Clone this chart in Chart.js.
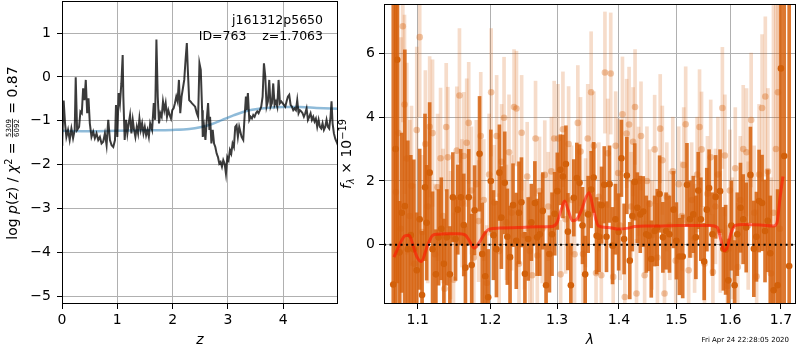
<!DOCTYPE html>
<html><head><meta charset="utf-8">
<script src="https://cdn.jsdelivr.net/npm/chart.js@4.4.0/dist/chart.umd.min.js"></script>
<style>
html,body{margin:0;padding:0;background:#fff;}
#wrap{position:relative;width:800px;height:350px;background:#fff;}
canvas{position:absolute;left:0;top:0;}
</style></head><body>
<div id="wrap"><canvas id="c1" width="800" height="350"></canvas><canvas id="c2" width="800" height="350"></canvas></div>
<script>
// ---------- LEFT PANEL DATA: log p(z) ----------
const zGrid = [
 0,0.005,0.03,0.055,0.079,0.109,0.139,0.17,0.2,0.23,
 0.248,0.273,0.309,0.333,0.358,0.382,0.406,0.43,0.455,0.479,
 0.503,0.533,0.564,0.594,0.624,0.655,0.685,0.715,0.745,0.776,
 0.806,0.836,0.867,0.897,0.927,0.958,0.976,1.0,1.024,1.048,
 1.073,1.097,1.109,1.133,1.158,1.182,1.206,1.23,1.255,1.279,
 1.303,1.327,1.352,1.376,1.4,1.424,1.448,1.473,1.497,1.521,
 1.545,1.57,1.594,
 1.629,1.659,1.683,1.707,1.731,1.754,1.778,1.802,1.826,1.85,
 1.874,1.898,1.922,1.946,1.97,1.994,2.018,2.042,2.066,2.09,
 2.114,2.138,2.162,2.186,2.21,2.234,2.257,2.275,2.299,2.323,
 2.347,2.377,2.407,2.437,2.461,2.485,2.509,2.533,2.545,2.569,
 2.593,2.617,2.641,2.665,2.677,2.701,2.725,2.749,2.772,2.796,
 2.82,2.844,2.868,2.892,2.916,2.94,2.964,2.988,3.012,3.036,
 3.06,3.084,3.108,3.132,3.156,3.18,3.204,
 3.247,3.277,3.301,3.325,3.337,3.361,3.386,3.41,3.434,3.458,
 3.482,3.506,3.53,3.554,3.578,3.602,3.627,3.651,3.675,3.699,
 3.723,3.747,3.771,3.795,3.819,3.843,3.867,3.892,3.916,3.94,
 3.964,3.988,4.012,4.036,4.06,4.084,4.108,4.133,4.157,4.181,
 4.205,4.229,4.253,4.277,4.301,4.325,4.349,4.373,4.398,4.422,
 4.446,4.47,4.494,4.518,4.542,4.566,4.59,4.614,4.639,4.663,
 4.687,4.711,4.735,4.759,4.783,4.807,4.831,4.855,4.873,4.892,
 4.916,4.94,4.964,4.988];
const logPz = [
 -1.55,-1.45,-0.54,-1.06,-1.37,-1.21,-1.44,-1.18,-1.40,-1.21,
 -0.01,-1.21,-1.14,-0.79,-0.83,-0.26,-0.53,-0.07,-0.83,-0.49,
 -1.06,-1.37,-1.25,-1.40,-1.29,-1.44,-1.37,-1.52,-1.48,-1.29,
 -1.56,-0.98,-1.44,-1.56,-1.60,-1.44,-0.64,-1.37,-0.37,-0.60,
 -0.15,0.50,-0.45,-1.44,-0.98,-1.29,-1.06,-0.87,-1.29,-0.98,
 -1.21,-1.37,-1.14,-1.29,-0.95,-1.21,-1.06,-1.29,-1.14,-1.33,
 -1.21,-1.37,-1.06,
 -1.21,-0.60,-0.98,0.85,-0.45,-1.06,-0.83,-0.91,-0.56,-0.76,
 -0.60,-0.91,-0.76,-0.87,-0.95,-0.76,-0.72,-0.60,-0.45,-0.56,
 -0.07,-0.83,-0.45,-0.26,-0.07,0.39,0.77,0.16,-0.53,-0.56,
 -0.60,-0.64,-0.68,-0.83,-0.91,0.31,0.16,-0.76,-1.37,-1.14,
 -1.44,-0.98,-0.60,-1.21,-0.91,-1.52,-1.21,-1.52,-1.60,-1.75,
 -1.83,-1.98,-1.94,-2.05,-1.90,-1.98,-2.21,-1.83,-1.90,-1.67,
 -1.75,-1.52,-1.60,-1.14,-1.10,-1.37,-1.14,
 -1.37,-1.44,-0.91,-0.45,-0.76,-0.37,-0.98,-0.91,-0.95,-0.87,
 -0.91,-0.83,-0.79,-0.83,-0.76,-0.68,-0.45,0.31,0.01,-0.68,
 -0.56,-0.07,-0.68,-0.60,-0.15,-0.64,-0.56,-0.68,-0.07,-0.60,
 -0.56,-0.60,-0.64,-0.68,-0.56,-0.45,-0.41,-0.64,-0.68,-0.76,
 -0.72,-0.76,-0.53,-0.83,-0.76,-0.79,-0.83,-0.91,-0.83,-0.72,
 -0.98,-0.91,-0.83,-0.98,-0.91,-1.02,-0.95,-1.14,-0.98,-1.14,
 -1.18,-1.06,-1.21,-1.14,-0.98,-1.14,-1.18,-0.91,-0.56,-1.06,
 -1.29,-1.41,-1.48,-1.56];
const zModel  = [0,0.5,1,1.5,2,2.3,2.5,2.7,2.9,3.1,3.3,3.5,3.7,4,4.3,4.6,5];
const pzModel = [-1.23,-1.24,-1.23,-1.22,-1.21,-1.19,-1.15,-1.08,-0.98,-0.88,-0.79,-0.74,-0.71,-0.69,-0.69,-0.71,-0.73];
const zTicks  = [0,1,2,3,4];
const pzTicks = [-5,-4,-3,-2,-1,0,1];
const zRange  = [0, 4.99];
const pzRange = [-5.18, 1.73];

// ---------- RIGHT PANEL DATA: spectrum ----------
// strong spectrum (dark orange)
const lamA = [
 1.0682,1.0712,1.0733,1.0763,1.0792,1.0831,1.0870,1.0909,1.0948,1.0987,
 1.1026,1.1057,1.1096,1.1118,1.1158,1.1197,1.1242,1.1278,1.1315,1.1350,
 1.1390,1.1432,1.1473,1.1510,1.1541,1.1582,1.1624,1.1647,1.1693,1.1735,
 1.1776,1.1846,1.1884,1.1927,1.1969,1.2007,1.2045,1.2088,1.2131,1.2160,
 1.2209,1.2247,1.2287,1.2331,1.2379,1.2419,1.2456,1.2508,1.2557,1.2605,
 1.2658,1.2692,1.2733,1.2779,1.2829,1.2881,1.2921,1.2962,1.3003,1.3050,
 1.3091,1.3138,1.3169,1.3216,1.3263,1.3311,1.3354,1.3402,1.3445,1.3493,
 1.3541,1.3582,1.3631,1.3670,1.3712,1.3756,1.3793,1.3843,1.3893,1.3942,
 1.3995,1.4042,1.4087,1.4133,1.4183,1.4227,1.4268,1.4312,1.4363,1.4414,
 1.4466,1.4508,1.4553,1.4612,1.4657,1.4699,1.4757,1.4814,1.4874,1.4945,
 1.4998,1.5052,1.5112,1.5189,1.5244,1.5305,1.5353,1.5396,1.5444,1.5506,
 1.5554,1.5598,1.5660,1.5721,1.5804,1.5867,1.5910,1.5962,1.6019,1.6082,
 1.6133,1.6196,1.6249,1.6307,1.6390,1.6457,1.6508,1.6561,1.6620,1.6679,
 1.6733,1.6784,1.6853,1.6933,1.7000,1.7067,1.7169];
const fluxA = [
 -1.25,3.0,5.8,-0.24,1.0,1.21,-0.14,0.3,-0.14,-0.8,
 0.8,-1.58,1.8,0.69,2.26,-0.14,-0.93,0.23,0.5,-0.6,
 0.23,-0.93,1.49,0.18,1.1,1.49,0.62,-0.72,1.49,-0.64,
 1.08,2.85,-0.29,-0.99,-1.65,2.0,0.3,-0.14,2.26,0.85,
 1.94,0.25,-0.39,1.24,0.12,1.0,1.33,-0.91,0.18,0.7,
 1.31,0.23,0.33,1.06,-1.27,-0.29,0.33,0.97,1.68,2.35,
 2.14,2.53,0.41,-1.27,1.47,2.09,1.94,0.6,-0.93,0.95,
 1.73,2.11,0.28,0.25,1.24,1.88,0.25,1.9,-0.03,0.8,
 0.4,2.71,0.18,2.17,-0.5,0.9,1.97,1.16,0.95,1.04,
 0.33,0.28,-0.45,0.43,0.54,1.59,0.23,0.43,0.33,1.1,
 0.12,-0.37,-0.37,1.88,0.8,0.95,0.23,1.7,0.8,-0.53,
 1.1,1.78,0.33,1.5,1.68,-0.13,-0.16,-1.12,0.6,-1.27,
 0.33,1.16,0.8,0.54,2.19,-0.13,0.25,1.37,1.31,0.43,
 0.75,-0.27,-1.43,-1.27,5.53,2.78,-0.67];
const errA = [
 9,8,7,1.6,2.5,4.9,3.4,2.5,2.8,1.8,
 2.2,2.0,2.3,1.8,2.2,1.8,1.4,1.5,1.6,1.4,
 1.5,1.5,1.4,1.3,1.4,1.5,1.6,1.3,1.5,1.6,
 1.4,1.8,1.6,1.4,1.5,1.6,1.4,1.5,1.5,1.6,
 1.6,1.5,1.6,1.3,1.5,1.6,1.4,1.3,1.3,1.2,
 1.3,1.2,1.3,1.2,1.3,1.2,1.3,1.3,1.2,1.1,
 1.3,1.2,1.2,1.3,1.2,1.1,1.2,1.2,1.2,1.2,
 1.2,1.1,1.2,1.1,1.2,1.2,1.1,1.2,1.2,1.1,
 1.2,1.2,1.1,1.2,1.2,1.1,1.2,1.1,1.2,1.1,
 1.2,1.1,1.2,1.1,1.2,1.2,1.1,1.2,1.2,1.2,
 1.2,1.2,1.3,1.3,1.2,1.2,1.3,1.2,1.3,1.2,
 1.3,1.2,1.3,1.3,1.3,1.3,1.4,1.3,1.4,1.4,
 1.3,1.4,1.4,1.4,1.5,1.5,1.4,1.6,1.5,1.6,
 1.6,1.8,2.0,3.0,9,10,10];
// second spectrum (faded)
const lamB = [
 1.0716,1.0748,1.0780,1.0805,1.0827,1.0857,1.0896,1.0918,1.0955,1.0987,
 1.1026,1.1059,1.1101,1.1132,1.1158,1.1197,1.1231,1.1265,1.1305,1.1339,
 1.1359,1.1382,1.1404,1.1441,1.1482,1.1527,1.1564,1.1599,1.1624,1.1665,
 1.1693,1.1731,1.1765,1.1800,1.1832,1.1863,1.1906,1.1948,1.1983,1.2012,
 1.2055,1.2091,1.2127,1.2163,1.2199,1.2235,1.2272,1.2309,1.2346,1.2382,
 1.2419,1.2459,1.2501,1.2542,1.2582,1.2617,1.2668,1.2695,1.2729,1.2771,
 1.2809,1.2863,1.2911,1.2954,1.3013,1.3055,1.3091,1.3133,1.3180,1.3227,
 1.3275,1.3327,1.3370,1.3410,1.3450,1.3486,1.3541,1.3586,1.3621,1.3667,
 1.3707,1.3767,1.3813,1.3863,1.3904,1.3945,1.3987,1.4020,1.4059,1.4099,
 1.4129,1.4171,1.4205,1.4239,1.4273,1.4298,1.4332,1.4375,1.4438,1.4478,
 1.4525,1.4565,1.4612,1.4661,1.4710,1.4748,1.4786,1.4827,1.4880,1.4933,
 1.4986,1.5040,1.5094,1.5130,1.5166,1.5220,1.5275,1.5329,1.5375,1.5420,
 1.5457,1.5512,1.5567,1.5628,1.5669,1.5716,1.5763,1.5810,1.5848,1.5895,
 1.5943,1.5991,1.6038,1.6095,1.6143,1.6191,1.6249,1.6313,1.6346,1.6404,
 1.6463,1.6512,1.6561,1.6620,1.6685,1.6737,1.6798,1.6848,1.6899,1.6939,
 1.6980];
const fluxB = [
 1.65,3.5,0.5,6.85,4.4,2.7,0.9,1.85,-0.6,3.6,
 6.51,0.4,3.16,1.2,3.7,3.5,-0.3,1.8,2.71,0.9,
 -1.38,3.69,2.74,0.3,-1.1,2.95,4.68,1.3,2.78,3.2,
 3.82,1.7,-0.4,1.9,0.74,3.41,1.4,-1.2,2.2,4.78,
 1.32,3.41,-0.2,2.6,3.98,0.7,2.9,1.0,4.32,4.27,
 -0.6,3.51,0.3,2.14,-0.2,-0.96,3.33,-0.34,1.68,0.5,
 2.19,1.2,2.3,3.33,3.33,-0.93,3.62,0.8,3.16,1.4,
 -0.3,3.82,2.92,-0.29,1.0,3.33,4.78,3.1,-0.89,1.5,
 -0.96,5.4,2.87,5.37,-1.01,3.1,2.25,0.6,4.09,-1.64,
 3.49,3.77,1.2,3.23,4.32,-1.53,1.99,3.41,-0.96,2.0,
 1.28,0.3,2.99,-0.4,3.64,2.65,-1.53,1.5,0.6,2.3,
 -0.5,1.9,0.9,2.5,3.78,-0.8,1.4,0.2,2.2,3.69,
 2.99,-0.6,1.6,2.74,-0.86,1.2,2.2,0.4,4.29,2.8,
 -1.3,1.7,0.2,2.4,-0.7,1.4,3.0,2.9,0.6,3.91,
 1.0,-1.0,2.2,4.29,4.65,2.3,-0.9,1.0,3.0,4.78,
 0.5];
const errB = [
 7,7,6,3,2.8,3,3,2.5,2.5,2.6,
 2.5,2.4,2.3,2.4,2.2,2.3,2.2,2.3,2.2,2.1,
 2.2,2.0,2.2,2.0,2.1,2.0,2.1,2.0,2.0,2.0,
 1.9,2.0,1.9,2.0,1.9,2.0,1.9,1.8,1.9,2.0,
 1.8,1.9,1.8,1.8,1.9,1.8,1.8,1.8,1.8,1.8,
 1.7,1.8,1.7,1.7,1.7,1.7,1.8,1.7,1.7,1.7,
 1.7,1.7,1.7,1.8,1.7,1.7,1.8,1.7,1.8,1.7,
 1.7,1.8,1.7,1.7,1.7,1.7,1.9,1.7,1.7,1.7,
 1.7,1.9,1.7,1.9,1.7,1.7,1.7,1.7,1.8,1.7,
 1.7,1.8,1.7,1.7,1.8,1.7,1.7,1.7,1.7,1.7,
 1.7,1.7,1.7,1.7,1.7,1.7,1.8,1.7,1.7,1.7,
 1.7,1.8,1.7,1.8,1.8,1.7,1.8,1.7,1.8,1.8,
 1.8,1.8,1.8,1.8,1.8,1.8,1.8,1.9,1.9,1.9,
 1.9,1.9,1.9,1.9,2.0,2.0,2.0,2.0,2.0,2.1,
 2.1,2.1,2.2,2.3,2.5,2.6,3,8,8,8,
 8];
// template fit
const lamFit = [
 1.0691,1.0767,1.0831,1.0887,1.0939,1.0991,1.1049,1.1114,1.1193,1.1255,
 1.1382,1.1564,1.1647,1.1703,1.1772,1.1842,1.1927,1.1983,1.2127,1.2419,
 1.2718,1.2921,1.2997,1.3066,1.3117,1.3169,1.3243,1.3311,1.3390,1.3454,
 1.3509,1.3578,1.3659,1.3821,1.3987,1.4155,1.4268,1.4438,1.4727,1.5022,
 1.5324,1.5628,1.5753,1.5815,1.5880,1.5943,1.6006,1.6101,1.6262,1.6586,
 1.6853,1.6919,1.6986,1.7041];
const fluxFit = [
 -0.39,0.02,0.28,0.30,-0.03,-0.39,-0.53,-0.13,0.28,0.33,
 0.34,0.34,0.30,0.12,-0.11,0.07,0.38,0.49,0.52,0.54,
 0.56,0.57,0.69,1.11,1.37,1.11,0.75,0.80,1.11,1.47,
 1.63,1.11,0.59,0.54,0.49,0.52,0.57,0.59,0.59,0.60,
 0.60,0.60,0.54,0.18,-0.19,-0.08,0.33,0.61,0.63,0.62,
 0.59,0.69,1.52,2.14];
const lamTicks = [1.1,1.2,1.3,1.4,1.5,1.6,1.7];
const fTicks   = [0,2,4,6];
const lamRange = [1.0564, 1.731];
const fRange   = [-1.86, 7.55];

// ---------- TEXT ----------
const fieldName = 'j161312p5650';
const idText    = 'ID=763    z=1.7063';
const stamp     = 'Fri Apr 24 22:28:05 2020';
const FONT = "'DejaVu Sans', sans-serif";

function fmtNum(v){ return v < 0 ? '\u2212' + Math.abs(v) : String(v); }

function drawRich(ctx, parts, cx, cy, rot){
  ctx.save();
  ctx.translate(cx, cy); ctx.rotate(rot);
  ctx.fillStyle = '#000'; ctx.textBaseline = 'alphabetic'; ctx.textAlign = 'left';
  const widths = parts.map(p => {
    ctx.font = p.f;
    if (p.frac) return Math.max(ctx.measureText(p.frac[0]).width, ctx.measureText(p.frac[1]).width) + 2;
    return ctx.measureText(p.t).width;
  });
  const total = widths.reduce((a,b)=>a+b,0);
  let x = -total/2; const base = 5;
  parts.forEach((p,i) => {
    ctx.font = p.f;
    if (p.frac){
      const w = widths[i], bar = base - 4.6;
      ctx.textAlign = 'center';
      ctx.fillText(p.frac[0], x + w/2, bar - 1.6);
      ctx.fillText(p.frac[1], x + w/2, bar + 1.6 + p.h);
      ctx.fillRect(x + 0.5, bar - 0.4, w - 1, 0.8);
      ctx.textAlign = 'left';
    } else {
      ctx.fillText(p.t, x, base + (p.dy || 0));
    }
    x += widths[i];
  });
  ctx.restore();
}

const leftYLabel = [
  {t:'log ', f:'14px '+FONT},
  {t:'p', f:'italic 14px '+FONT},
  {t:'(', f:'14px '+FONT},
  {t:'z', f:'italic 14px '+FONT},
  {t:') / ', f:'14px '+FONT},
  {t:'\u03c7', f:'italic 14px '+FONT},
  {t:'2', f:'9.8px '+FONT, dy:-5.5},
  {t:' = ', f:'14px '+FONT},
  {frac:['5309','6092'], f:'7px '+FONT, h:5.1},
  {t:' = 0.87', f:'14px '+FONT}
];
const rightYLabel = [
  {t:'f', f:'italic 14px '+FONT},
  {t:'\u03bb', f:'italic 9.8px '+FONT, dy:2.5},
  {t:' \u00d7 10', f:'14px '+FONT},
  {t:'\u221219', f:'9.8px '+FONT, dy:-5.5}
];

const frame = {
  id:'frame',
  afterDraw(chart){
    const {ctx, chartArea:a} = chart;
    ctx.save(); ctx.strokeStyle = '#000'; ctx.lineWidth = 1;
    ctx.strokeRect(a.left + 0.5, a.top + 0.5, a.right - a.left - 1, a.bottom - a.top - 1);
    ctx.restore();
  }
};
const leftText = {
  id:'leftText',
  afterDraw(chart){
    const ctx = chart.ctx;
    ctx.save(); ctx.fillStyle = '#000'; ctx.font = '12.5px ' + FONT;
    ctx.textAlign = 'right'; ctx.textBaseline = 'alphabetic';
    ctx.fillText(fieldName, 323, 24);
    ctx.fillText(idText, 323, 39.5);
    ctx.restore();
    drawRich(ctx, leftYLabel, 12, 153, -Math.PI/2);
  }
};
const rightText = {
  id:'rightText',
  afterDraw(chart){
    const ctx = chart.ctx;
    ctx.save(); ctx.fillStyle = '#000'; ctx.font = '7px ' + FONT;
    ctx.textAlign = 'right'; ctx.textBaseline = 'alphabetic';
    ctx.fillText(stamp, 789, 342);
    ctx.restore();
    drawRich(ctx, rightYLabel, 346, 154, -Math.PI/2);
  }
};

function gridOpts(){ return {color:'#b0b0b0', lineWidth:1, tickLength:5, tickColor:'#000', drawTicks:true, offset:false}; }
function noPadX(s){ s.height = 46; s.paddingLeft = 0; s.paddingRight = 0; }
function noPadY(w){ return s => { s.width = w; s.paddingTop = 0; s.paddingBottom = 0; }; }

// ---------- LEFT CHART ----------
new Chart(document.getElementById('c1'), {
  type:'line',
  data:{ datasets:[
    { data: zGrid.map((z,i)=>({x:z, y:logPz[i]})), borderColor:'rgba(0,0,0,0.77)', borderWidth:2,
      pointRadius:0, tension:0, order:0 },
    { data: zModel.map((z,i)=>({x:z, y:pzModel[i]})), borderColor:'rgba(31,119,180,0.5)', borderWidth:2.5,
      pointRadius:0, tension:0.4, cubicInterpolationMode:'monotone', order:1 }
  ]},
  options:{
    responsive:false, animation:false, devicePixelRatio:1, events:[],
    layout:{padding:{left:0, right:462, top:1, bottom:0}},
    plugins:{legend:{display:false}, tooltip:{enabled:false}},
    scales:{
      x:{ type:'linear', min:zRange[0], max:zRange[1], offset:false,
          afterBuildTicks: s => { s.ticks = zTicks.map(v=>({value:v})); },
          afterFit: noPadX,
          grid:gridOpts(), border:{display:false},
          ticks:{font:{family:FONT, size:14}, color:'#000', padding:3, maxRotation:0, autoSkip:false, callback:v=>fmtNum(v)},
          title:{display:true, text:'z', color:'#000', font:{family:FONT, size:14, style:'italic'}, padding:{top:0, bottom:1}} },
      y:{ type:'linear', min:pzRange[0], max:pzRange[1],
          afterBuildTicks: s => { s.ticks = pzTicks.map(v=>({value:v})); },
          afterFit: noPadY(62),
          grid:gridOpts(), border:{display:false},
          ticks:{font:{family:FONT, size:14}, color:'#000', padding:6, autoSkip:false, callback:v=>fmtNum(v)} }
    }
  },
  plugins:[frame, leftText]
});

// ---------- RIGHT CHART ----------
const orange = '214,96,12';
new Chart(document.getElementById('c2'), {
  type:'line',
  data:{ datasets:[
    { type:'line', data:[{x:lamRange[0], y:0},{x:lamRange[1], y:0}], borderColor:'#000', borderWidth:2.1,
      borderDash:[2.1,3.4], pointRadius:0, order:1 },
    { type:'line', data: lamFit.map((l,i)=>({x:l, y:fluxFit[i]})), borderColor:'rgba(255,20,0,0.6)', borderWidth:3,
      pointRadius:0, tension:0.4, cubicInterpolationMode:'monotone', order:2 },
    { type:'line', data: lamA.map((l,i)=>({x:l, y:fluxA[i]})), showLine:false, pointRadius:3.3,
      pointBackgroundColor:'rgb(210,96,10)', pointBorderWidth:0, order:3 },
    { type:'bar', data: lamA.map((l,i)=>({x:l, y:[fluxA[i]-errA[i], fluxA[i]+errA[i]]})), grouped:false,
      barThickness:3, backgroundColor:'rgba('+orange+',0.85)', borderWidth:0, order:4 },
    { type:'line', data: lamB.map((l,i)=>({x:l, y:fluxB[i]})), showLine:false, pointRadius:3.3,
      pointBackgroundColor:'rgba('+orange+',0.35)', pointBorderWidth:0, order:5 },
    { type:'bar', data: lamB.map((l,i)=>({x:l, y:[fluxB[i]-errB[i], fluxB[i]+errB[i]]})), grouped:false,
      barThickness:3, backgroundColor:'rgba('+orange+',0.22)', borderWidth:0, order:6 }
  ]},
  options:{
    responsive:false, animation:false, devicePixelRatio:1, events:[],
    layout:{padding:{left:350, right:1, top:1, bottom:0}},
    plugins:{legend:{display:false}, tooltip:{enabled:false}},
    scales:{
      x:{ type:'logarithmic', min:lamRange[0], max:lamRange[1], offset:false,
          afterBuildTicks: s => { s.ticks = lamTicks.map(v=>({value:v})); },
          afterFit: noPadX,
          grid:gridOpts(), border:{display:false},
          ticks:{font:{family:FONT, size:14}, color:'#000', padding:3, maxRotation:0, autoSkip:false, callback:v=>Number(v).toFixed(1)},
          title:{display:true, text:'\u03bb', color:'#000', font:{family:FONT, size:14, style:'italic'}, padding:{top:0, bottom:1}} },
      y:{ type:'linear', min:fRange[0], max:fRange[1],
          afterBuildTicks: s => { s.ticks = fTicks.map(v=>({value:v})); },
          afterFit: noPadY(34),
          grid:gridOpts(), border:{display:false},
          ticks:{font:{family:FONT, size:14}, color:'#000', padding:4, autoSkip:false, callback:v=>fmtNum(v)} }
    }
  },
  plugins:[frame, rightText]
});
</script>
</body></html>
